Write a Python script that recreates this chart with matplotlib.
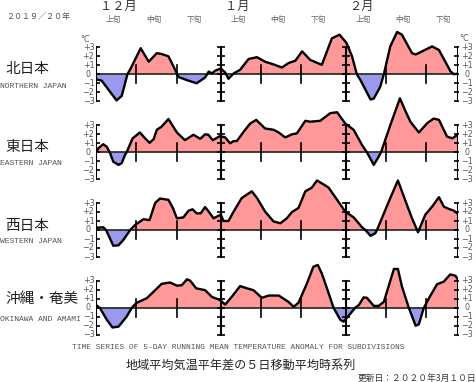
import matplotlib
matplotlib.use("Agg")
import matplotlib.pyplot as plt
import matplotlib.transforms as mtransforms
import numpy as np

plt.rcParams['font.family'] = ['Noto Sans CJK JP', 'DejaVu Sans']

W, H = 476, 382

# days counted from 2019-12-01, anomaly in degC (5-day running mean)
north_days = [0, 1.4, 3.5, 5.1, 6.4, 7.8, 8.5, 11.1, 13.1, 15.1, 16.3, 18, 20.1, 20.5, 22.6,
              25, 27.1, 28, 28.8, 29.6, 31, 32.1, 32.9, 34.2, 35.8, 37.9, 40, 42, 44.1, 46.2,
              47.8, 49.5, 51.2, 53.2, 56.1, 58.6, 60.5, 62.2, 63.6, 64.8, 65.7, 68.2, 69, 70.6, 71.5,
              73.1, 74.8, 76, 78.5, 79.4, 83.5, 85.2, 88.1, 89, 90]
north_vals = [-0.55, -0.7, -1.95, -2.9, -2.4, 0, 0.55, 2.9, 1.4, 2.35, 2.25, 2.0, 0.1, -0.3, -0.65,
              -1.0, -0.35, 0.3, 0.1, 0.4, 0.65, 0.2, -0.5, 0.1, 0.5, 1.7, 1.9, 1.4, 1.1, 0.75,
              1.25, 1.5, 2.55, 1.6, 1.05, 4.0, 4.4, 3.5, 2.0, 0, -0.65, -2.8, -2.7, -1.4, 0,
              3.1, 4.7, 4.4, 2.35, 2.2, 3.1, 2.7, 0.3, 0, 0.1]

east_days = [0, 0.6, 1.8, 2.7, 3.5, 4.3, 5.6, 6.4, 7.2, 7.6, 9.1, 10.9, 12.2, 13.3, 14.3, 15.1,
             16.3, 18, 20.1, 22.1, 24.2, 25.9, 27.1, 27.9, 29, 30.8, 32.1, 33.3, 34.2, 35, 36.7,
             38.3, 39.8, 42, 44.1, 45.4, 47, 48.7, 49.9, 52, 53.2, 55.7, 58.2, 59.9, 61.9, 64,
             66.1, 67.3, 69, 70.2, 70.8, 73.1, 75.5, 76.9, 78.1, 80.2, 82.3, 83.9, 85.2, 87.2, 88.5, 90]
east_vals = [0, 0.45, 0.9, 0.6, -0.1, -1.05, -1.4, -1.2, -0.3, 0, 1.55, 2.2, 1.55, 1.05, 1.45, 2.5,
             2.85, 3.7, 2.2, 1.35, 1.95, 1.5, 2.0, 1.95, 1.35, 1.8, 1.65, 1.0, 1.25, 1.25, 2.3,
             3.2, 3.6, 2.65, 2.5, 2.2, 1.65, 2.0, 2.1, 3.5, 3.4, 3.5, 4.35, 4.45, 3.2, 2.5,
             0.8, 0, -1.4, -0.5, 0, 3.0, 6.0, 4.55, 3.4, 2.2, 3.25, 3.75, 3.6, 1.75, 1.55, 2.0]

west_days = [0, 1.8, 2.5, 4.3, 5.6, 6.8, 8.5, 9.7, 11.8, 13.3, 14.7, 15.9, 18, 19.1, 20.1,
             21.7, 23, 24, 25, 26, 27.1, 28, 29.2, 31, 31.7, 32.9, 34.2, 36.2, 38.7, 40,
             42, 44.1, 45.8, 47.4, 48.7, 50.3, 52, 53.6, 54.9, 56.6, 57.8, 59.9, 61.9, 64, 66.1,
             66.9, 68.2, 69.4, 69.8, 73.1, 75, 76.9, 78.5, 80, 81.8, 83.5, 85.2, 86.4, 87.6, 88.9, 90]
west_vals = [0.25, 0.3, 0, -1.75, -1.7, -1.1, 0, 0.55, 1.2, 1.1, 3.0, 3.5, 3.35, 2.45, 1.3,
             1.4, 2.15, 2.3, 1.85, 1.85, 2.55, 2.05, 1.3, 1.7, 1.0, 1.0, 2.05, 3.55, 4.3, 3.55,
             2.05, 0.95, 0.75, 1.3, 2.0, 2.45, 4.3, 4.7, 5.5, 5.05, 4.7, 3.35, 2.05, 1.4, 0.3,
             0, -0.65, -0.35, 0, 3.55, 5.5, 3.2, 1.3, -0.25, 1.7, 2.6, 3.65, 2.6, 2.35, 2.15, 1.75]

oki_days = [0, 1, 2.7, 4.1, 5.6, 7.6, 8.9, 10.1, 12.6, 14.7, 16.3, 18.4, 20.1, 21.3, 22.6,
            23.4, 24.9, 27.1, 28.8, 30.8, 32.1, 33.7, 35.8, 37.5, 39.1, 41.2, 42.9, 45.4, 47.8, 49.1,
            50.3, 52.4, 54, 55.1, 56.1, 57.8, 59, 60.7, 61.5, 63.2, 64.4, 65.3, 66.5, 67.3, 69,
            70.2, 71.5, 74, 75, 76, 77.7, 79.4, 80.2, 81.4, 82.7, 84.7, 86.4, 88, 89.3, 90]
oki_vals = [0.3, -0.05, -1.35, -2.2, -2.1, -1.0, 0, 0.55, 1.05, 1.95, 2.65, 2.8, 2.45, 2.5, 3.15,
            3.0, 2.15, 1.95, 1.2, 0.85, 0.35, 1.2, 2.4, 2.15, 1.95, 1.1, 1.35, 1.35, 0.65, 0.1,
            0.55, 2.7, 4.55, 4.75, 3.8, 1.6, 0, -1.35, -1.55, -0.65, 0, 0.3, 1.15, 1.1, 0.2,
            0.2, 0.65, 4.3, 4.3, 2.35, 0, -2.0, -1.85, -0.05, 1.05, 2.6, 2.9, 3.7, 3.55, 3.05]

region_jp = ['北日本', '東日本', '西日本', '沖縄・奄美']
region_en = ['NORTHERN JAPAN', 'EASTERN JAPAN', 'WESTERN JAPAN', 'OKINAWA AND AMAMI']
series = [(north_days, north_vals), (east_days, east_vals),
          (west_days, west_vals), (oki_days, oki_vals)]

month_starts = [0, 31, 62]
month_labels = ['１２月', '１月', '２月']
end_day = 90
dekad_starts = [0, 10, 20, 31, 41, 51, 62, 72, 82]
dekad_labels = ['上旬', '中旬', '下旬'] * 3
tick_vals = [3, 2, 1, 0, -1, -2, -3]
tick_text = ['+3', '+2', '+1', '0', '−1', '−2', '−3']

# layout in pixels
zero_px = [74.3, 152.3, 230, 307.7]
jp_px = [69, 147.5, 226, 299]
en_px = [86.5, 163.5, 241.5, 319.5]
x0_px, x1_px = 96, 458.3
unit_px = 9.0
ymin, ymax = -4, 7

POS = '#ff9999'
NEG = '#9999ee'

fig = plt.figure(figsize=(W / 100, H / 100), dpi=100)


def ftext(x, y, s, **kw):
    fig.text(x / W, 1 - y / H, s, **kw)


axes = []
for i, (days, vals) in enumerate(series):
    top = zero_px[i] - ymax * unit_px
    bot = zero_px[i] - ymin * unit_px
    ax = fig.add_axes([x0_px / W, 1 - bot / H, (x1_px - x0_px) / W, (bot - top) / H])
    ax.set_xlim(0, end_day)
    ax.set_ylim(ymin, ymax)
    ax.axis('off')
    ax.patch.set_alpha(0)
    axes.append(ax)

    d = np.array(days, dtype=float)
    v = np.array(vals, dtype=float)
    ax.fill_between(d, v, 0, where=v >= 0, interpolate=True, color=POS, lw=0)
    ax.fill_between(d, v, 0, where=v <= 0, interpolate=True, color=NEG, lw=0)
    ax.axhline(0, color='#222222', lw=1.2)
    ax.plot(d, v, color='black', lw=1.7, solid_joinstyle='round')

    # month axes with degree ticks
    for m in month_starts + [end_day]:
        ax.plot([m, m], [-3, 3], color='black', lw=1.5)
        ax.plot([m] * 7, tick_vals, ls='none', marker='_', ms=6, mew=1.2, color='black')
    for dk in dekad_starts:
        if dk in month_starts:
            continue
        ax.plot([dk, dk], [-1, 1], color='black', lw=1.2)

    trans = mtransforms.blended_transform_factory(fig.transFigure, ax.transData)
    for tv, tt in zip(tick_vals, tick_text):
        ax.text(88.5 / W, tv, tt, transform=trans, ha='center', va='center',
                fontsize=5.8, color='#555555', family='DejaVu Sans')
        ax.text(467 / W, tv, tt, transform=trans, ha='center', va='center',
                fontsize=5.8, color='#555555', family='DejaVu Sans')

    ftext(5, jp_px[i], region_jp[i], ha='left', va='center', fontsize=10.5, color='#222222')
    ftext(0, en_px[i], region_en[i], ha='left', va='center', fontsize=5.8,
          color='#555555', family='Liberation Mono')

ftext(85, 39.5, '°C', ha='center', va='center', fontsize=5.8, color='#555555', family='DejaVu Sans')
ftext(464, 38.5, '°C', ha='center', va='center', fontsize=5.8, color='#555555', family='DejaVu Sans')

# header
top_ax = axes[0]
htrans = mtransforms.blended_transform_factory(top_ax.transData, fig.transFigure)
for m, lab in zip(month_starts, month_labels):
    top_ax.text(m + 1.0, 1 - 6 / H, lab, transform=htrans, ha='left', va='center',
                fontsize=8.8, color='#333333')
for dk, lab in zip(dekad_starts, dekad_labels):
    top_ax.text(dk + 4.3, 1 - 20 / H, lab, transform=htrans, ha='center', va='center',
                fontsize=5.6, color='#666666')

ftext(6, 16.5, '２０１９／２０年', ha='left', va='center', fontsize=5.8, color='#555555')

# footer
ftext(238, 347.5, 'TIME SERIES OF 5-DAY RUNNING MEAN TEMPERATURE ANOMALY FOR SUBDIVISIONS',
      ha='center', va='center', fontsize=5.7, color='#555555', family='Liberation Mono')
ftext(241, 365, '地域平均気温平年差の５日移動平均時系列', ha='center', va='center',
      fontsize=8.7, color='#222222')
ftext(476, 378, '更新日：２０２０年3月１０日', ha='right', va='center', fontsize=6.3, color='#333333')

fig.savefig('out.png', dpi=100)
